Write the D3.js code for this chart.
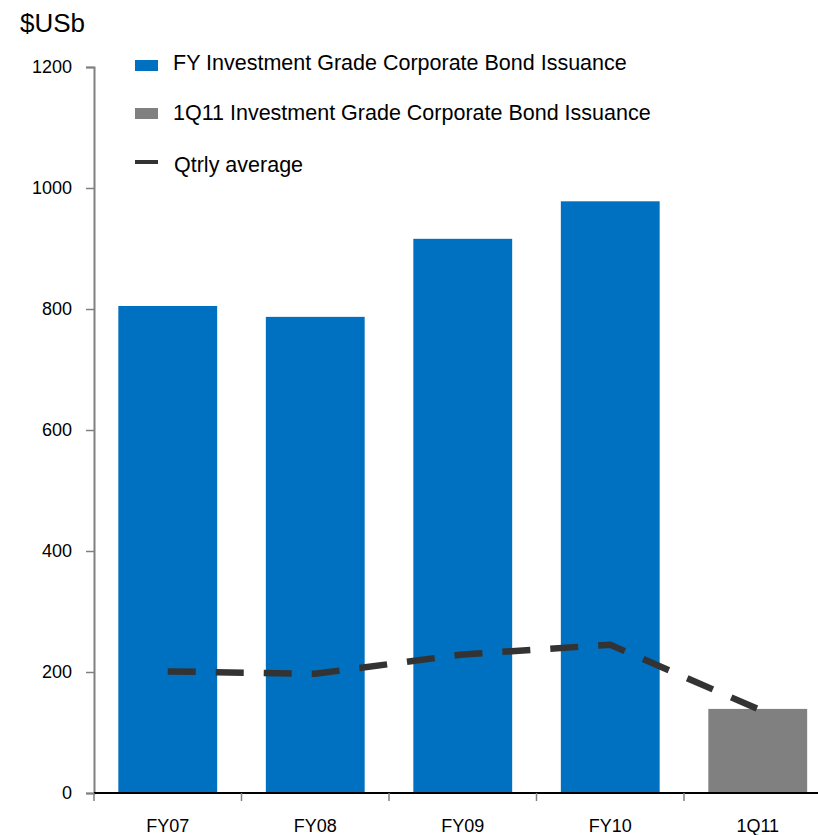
<!DOCTYPE html>
<html>
<head>
<meta charset="utf-8">
<script src="https://cdn.jsdelivr.net/npm/d3@7"></script>
<style>
  html, body { margin: 0; padding: 0; background: #fff; }
  svg text { font-family: "Liberation Sans", Arial, sans-serif; fill: #000; }
</style>
</head>
<body>
<svg id="chart" width="818" height="835"></svg>
<script>
// Investment grade corporate bond issuance, $US billions
const categories = ["FY07", "FY08", "FY09", "FY10", "1Q11"];
const issuance = [805, 787, 916, 978, 139];
const barKinds = ["fy", "fy", "fy", "fy", "q"];
const qtrlyAverage = [201, 197, 229, 245, 139];
const yTicks = [0, 200, 400, 600, 800, 1000, 1200];
const legendLabels = [
  "FY Investment Grade Corporate Bond Issuance",
  "1Q11 Investment Grade Corporate Bond Issuance",
  "Qtrly average"
];

const colors = { fy: "#0070C0", q: "#808080", line: "#333333" };

const svg = d3.select("#chart");
const margin = { left: 94, right: -13.5, top: 67, bottom: 42 };
const W = 818, H = 835;

const x = d3.scaleBand()
  .domain(categories)
  .range([margin.left, W - margin.right])
  .paddingInner(0.33)
  .paddingOuter(0.165);

const y = d3.scaleLinear()
  .domain([0, 1200])
  .range([H - margin.bottom, margin.top]);

// Bars
svg.append("g")
  .selectAll("rect")
  .data(categories)
  .join("rect")
  .attr("x", d => x(d))
  .attr("width", x.bandwidth())
  .attr("y", (d, i) => y(issuance[i]))
  .attr("height", (d, i) => y(0) - y(issuance[i]))
  .attr("fill", (d, i) => colors[barKinds[i]]);

// Y axis
const yAxis = d3.axisLeft(y).tickValues(yTicks).tickSize(8).tickPadding(14).tickFormat(d3.format("d"));
const gy = svg.append("g").attr("transform", `translate(${margin.left},0)`).call(yAxis);
gy.select(".domain").attr("stroke", "#808080").attr("stroke-width", 2);
gy.selectAll(".tick line").attr("stroke", "#808080").attr("stroke-width", 1.5);
gy.selectAll(".tick text").attr("font-size", 18).attr("fill", "#000");

// X axis with ticks on category boundaries
const step = x.step();
const bounds = categories.map(c => x(c) - (step - x.bandwidth()) / 2);
const gx = svg.append("g");
gx.append("line")
  .attr("x1", margin.left).attr("x2", W)
  .attr("y1", y(0)).attr("y2", y(0))
  .attr("stroke", "#000").attr("stroke-width", 2);
gx.selectAll("line.tk")
  .data(bounds)
  .join("line")
  .attr("class", "tk")
  .attr("x1", d => d).attr("x2", d => d)
  .attr("y1", y(0)).attr("y2", y(0) + 8)
  .attr("stroke", "#808080").attr("stroke-width", 1.5);
gx.selectAll("text")
  .data(categories)
  .join("text")
  .attr("x", d => x(d) + x.bandwidth() / 2)
  .attr("y", y(0) + 39)
  .attr("text-anchor", "middle")
  .attr("font-size", 18)
  .text(d => d);

// Quarterly average line
const line = d3.line()
  .x((d, i) => x(categories[i]) + x.bandwidth() / 2)
  .y(d => y(d));
svg.append("path")
  .datum(qtrlyAverage)
  .attr("d", line)
  .attr("fill", "none")
  .attr("stroke", colors.line)
  .attr("stroke-width", 6.5)
  .attr("stroke-dasharray", "28,20");

// Unit label
svg.append("text")
  .attr("x", 20).attr("y", 32)
  .attr("font-size", 26)
  .text("$USb");

// Legend
const lg = svg.append("g");
const rowY = [70, 120, 172];
lg.append("rect").attr("x", 135).attr("y", rowY[0] - 10).attr("width", 23).attr("height", 11).attr("fill", colors.fy);
lg.append("rect").attr("x", 135).attr("y", rowY[1] - 12).attr("width", 23).attr("height", 11).attr("fill", colors.q);
lg.append("line").attr("x1", 135).attr("x2", 158).attr("y1", rowY[2] - 10).attr("y2", rowY[2] - 10)
  .attr("stroke", colors.line).attr("stroke-width", 4);
lg.selectAll("text")
  .data(legendLabels)
  .join("text")
  .attr("x", (d, i) => i === 2 ? 174 : 173)
  .attr("y", (d, i) => rowY[i])
  .attr("font-size", 21.5)
  .text(d => d);
</script>
</body>
</html>
